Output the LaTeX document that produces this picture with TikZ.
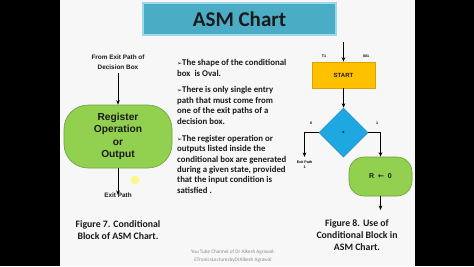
\documentclass[tikz,border=0pt]{standalone}
\usepackage{fontspec}
\setmainfont{Carlito}
\newfontfamily\arialf{Liberation Sans}
\newfontfamily\djv{DejaVu Sans}
\usetikzlibrary{shapes.geometric,arrows.meta}
\definecolor{titlebg}{HTML}{4BACC6}
\definecolor{titleedge}{HTML}{9ED8EA}
\definecolor{ovalgreen}{HTML}{92D050}
\definecolor{ovaledge}{HTML}{6E9E3A}
\definecolor{startor}{HTML}{FFC000}
\definecolor{startedge}{HTML}{D9A300}
\definecolor{diablue}{HTML}{1FA7E1}
\definecolor{diaedge}{HTML}{1682B5}
\definecolor{txt}{HTML}{1A1A1A}
\tikzset{
  arr/.style={draw=black, line width=0.8pt, -{Stealth[length=4.5pt,width=3.6pt]}},
  ln/.style={draw=black, line width=0.8pt},
  bullet/.style={anchor=north west, inner sep=0pt, align=left, text=txt,
    font=\fontsize{8.8}{10.4}\selectfont\bfseries},
  caption/.style={inner sep=0pt, align=center, text=txt,
    font=\fontsize{9.8}{12}\selectfont\bfseries},
  tiny/.style={inner sep=0pt, align=center, font=\arialf\fontsize{3.6}{4.6}\selectfont\bfseries}
}
\newcommand{\arrowbul}{{\djv\fontsize{6}{6}\selectfont ➢}}
\begin{document}
\begin{tikzpicture}[x=1pt,y=-1pt]
\useasboundingbox (0,0) rectangle (474,266);
\fill[black] (0,0) rectangle (474,266);
\fill[white!97!black] (60,0) rectangle (414.5,266);
% title
\node[draw=titleedge, line width=1.2pt, fill=titlebg, minimum width=193pt, minimum height=32pt, inner sep=0pt,
  font=\fontsize{21}{24}\selectfont\bfseries, text=txt] (title) at (239.5,19) {ASM Chart};
% left figure
\node[inner sep=0pt, align=center, font=\arialf\fontsize{6.4}{9.5}\selectfont\bfseries, text=txt] (from) at (118,62) {From Exit Path of\\Decision Box};
\node[draw=ovaledge, line width=0.6pt, fill=ovalgreen, rounded corners=24pt, minimum width=108pt, minimum height=63pt,
  inner sep=0pt, align=center, font=\arialf\fontsize{10.2}{12.3}\selectfont\bfseries, text=txt] (cond) at (118,136.5)
  {Register\\Operation\\or\\Output};
\coordinate (fromend) at (118,73);
\draw[arr] (fromend) -- (cond.north);
\node[inner sep=0pt, font=\arialf\fontsize{6.4}{8}\selectfont\bfseries, text=txt] (exitp) at (118,195) {Exit Path};
\draw[arr] (cond.south) -- ([yshift=-2.5pt]exitp.north);
\fill[yellow!55!white, opacity=0.8] (135,180) circle (4.5pt);
\node[caption] (cap7) at (118,230) {Figure 7. Conditional\\Block of ASM Chart.};
% bullets
\node[bullet] (b1) at (177,59.5) {\arrowbul The shape of the conditional\\box\ \ is Oval.};
\node[bullet] (b2) at (177,86.5) {\arrowbul There is only single entry\\path that must come from\\one of the exit paths of a\\decision box.};
\node[bullet] (b3) at (177,135) {\arrowbul The register operation or\\outputs listed inside the\\conditional box are generated\\during a given state, provided\\that the input condition is\\satisfied .};
% right figure
\coordinate (top) at (343.5,42);
\node[draw=startedge, line width=0.6pt, fill=startor, minimum width=63pt, minimum height=26pt, inner sep=0pt,
  font=\arialf\fontsize{6}{7}\selectfont\bfseries, text=txt] (start) at (343.5,75) {START};
\draw[arr] (top) -- (start.north);
\node[tiny] (t1) at (324,56) {T1};
\node[tiny] (c001) at (366,56) {001};
\node[diamond, aspect=1, draw=diaedge, line width=0.5pt, fill=diablue, minimum width=49pt, minimum height=49pt, inner sep=0pt,
  font=\arialf\fontsize{4}{5}\selectfont\bfseries] (dec) at (343.5,132.5) {x};
\draw[arr] (start.south) -- (dec.north);
\node[draw=ovaledge, line width=0.6pt, fill=ovalgreen, rounded corners=15pt, minimum width=63pt, minimum height=39pt,
  inner sep=0pt, font=\arialf\fontsize{7}{8}\selectfont\bfseries, text=txt] (rbox) at (380.5,176.5) {R\ \ {\djv\bfseries ←}\ \ 0};
\coordinate (lturn) at (304.5,132.5);
\coordinate (lend) at (304.5,157);
\coordinate (rturn) at (380.5,132.5);
\draw[arr] (dec.west) -- (lturn) -- (lend);
\draw[arr] (dec.east) -- (rturn) -- (rbox.north);
\node[tiny] (l0) at (311,123) {0};
\node[tiny] (l1) at (377,123) {1};
\node[tiny] (exit1) at (304.5,164.5) {Exit Path\\1};
\coordinate (rend) at (380.5,210);
\draw[arr] (rbox.south) -- (rend);
\node[caption] (cap8) at (357,235) {Figure 8. Use of\\Conditional Block in\\ASM Chart.};
% footer
\node[inner sep=0pt, align=center, text=black!45, font=\fontsize{5.2}{8}\selectfont] (foot) at (233,256) {You Tube Channel of Dr Alkesh Agrawal:\\ETronicsLecturesbyDrAlkesh Agrawal};
\end{tikzpicture}
\end{document}
